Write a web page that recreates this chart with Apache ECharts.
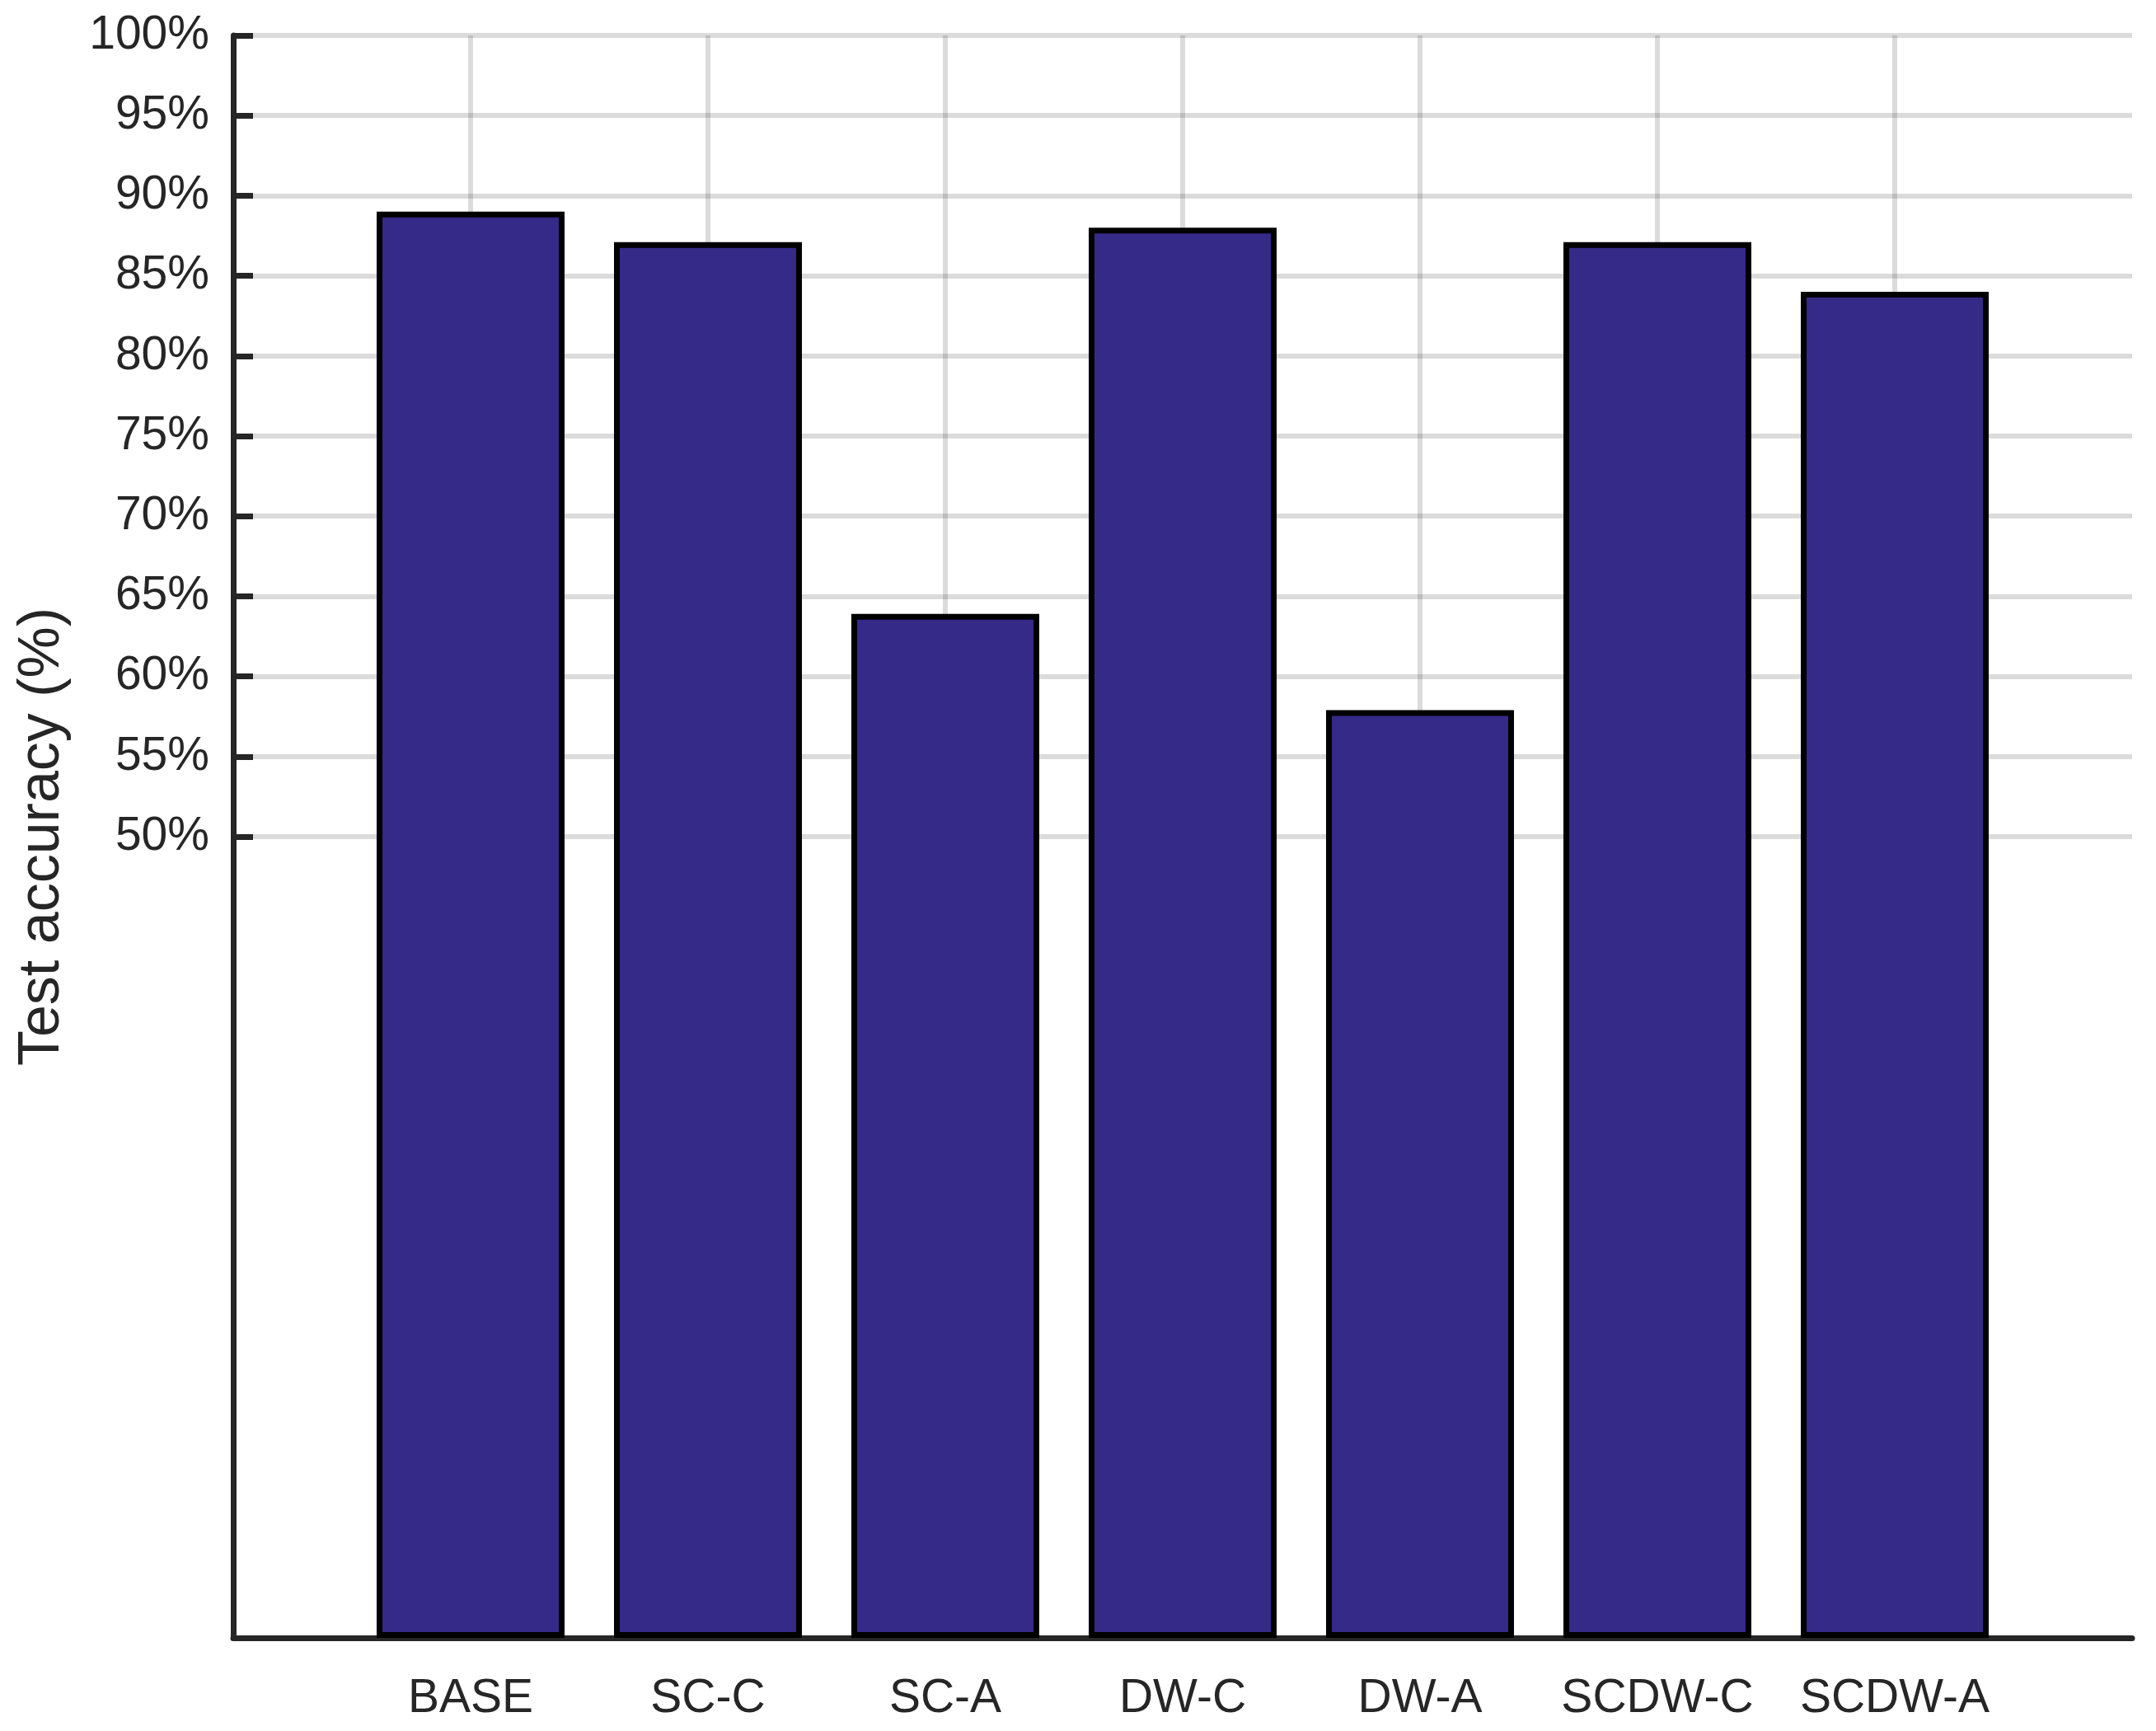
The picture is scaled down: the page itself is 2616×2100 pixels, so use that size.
<!DOCTYPE html>
<html>
<head>
<meta charset="utf-8">
<script src="https://cdn.jsdelivr.net/npm/echarts@6/dist/echarts.min.js"></script>
<style>
  html, body { margin: 0; padding: 0; background: #fff; }
  #bar { width: 2616px; height: 2100px; }
</style>
</head>
<body>
<div id="bar"></div>
<script>
// test accuracy per variant
var categories = ['BASE', 'SC-C', 'SC-A', 'DW-C', 'DW-A', 'SCDW-C', 'SCDW-A'];
var accuracy = [89.0, 87.1, 63.9, 88.0, 57.9, 87.1, 84.0];
var tickMin = 50, tickMax = 100, tickStep = 5;

var font = 'Liberation Sans, Arial, sans-serif';
var ink = '#262626';
var gridColor = 'rgba(0,0,0,0.14)';

var chart = echarts.init(document.getElementById('bar'));

chart.setOption({
    animation: false,
    grid: [
        // main plot: 0..100 %
        {left: 283, right: 29, top: 43, bottom: 113},
        // upper half only: ticks, labels and grid lines 50..100 %
        {left: 283, right: 29, top: 43, bottom: 1085}
    ],
    xAxis: [
        {
            gridIndex: 0,
            type: 'value',
            min: 0,
            max: categories.length + 1,
            interval: 1,
            axisLine: {show: true, lineStyle: {color: ink, width: 7}},
            axisTick: {show: false},
            axisLabel: {
                margin: 46,
                fontFamily: font,
                fontSize: 57,
                color: ink,
                formatter: function (v) {
                    return categories[v - 1] || '';
                }
            },
            splitLine: {
                show: true,
                showMinLine: false,
                showMaxLine: false,
                lineStyle: {color: gridColor, width: 6}
            }
        },
        {
            gridIndex: 1,
            type: 'value',
            min: 0,
            max: categories.length + 1,
            show: false
        }
    ],
    yAxis: [
        {
            gridIndex: 0,
            type: 'value',
            min: 0,
            max: 100,
            name: 'Test accuracy (%)',
            nameLocation: 'middle',
            nameGap: 196,
            nameTextStyle: {fontFamily: font, fontSize: 70, color: ink},
            axisLine: {show: true, lineStyle: {color: ink, width: 7}},
            axisTick: {show: false},
            axisLabel: {show: false},
            splitLine: {show: false}
        },
        {
            gridIndex: 1,
            type: 'value',
            min: tickMin,
            max: tickMax,
            interval: tickStep,
            axisLine: {show: false},
            axisTick: {show: true, inside: true, length: 24, lineStyle: {color: ink, width: 7}},
            axisLabel: {
                margin: 29,
                padding: [12, 0, 0, 0],
                fontFamily: font,
                fontSize: 57,
                color: ink,
                formatter: '{value}%'
            },
            splitLine: {show: true, lineStyle: {color: gridColor, width: 6}}
        }
    ],
    series: [
        {
            type: 'bar',
            xAxisIndex: 0,
            yAxisIndex: 0,
            barWidth: 228,
            itemStyle: {color: '#352A87', borderColor: '#000', borderWidth: 7},
            data: accuracy.map(function (v, i) { return [i + 1, v]; })
        }
    ]
});
</script>
</body>
</html>
